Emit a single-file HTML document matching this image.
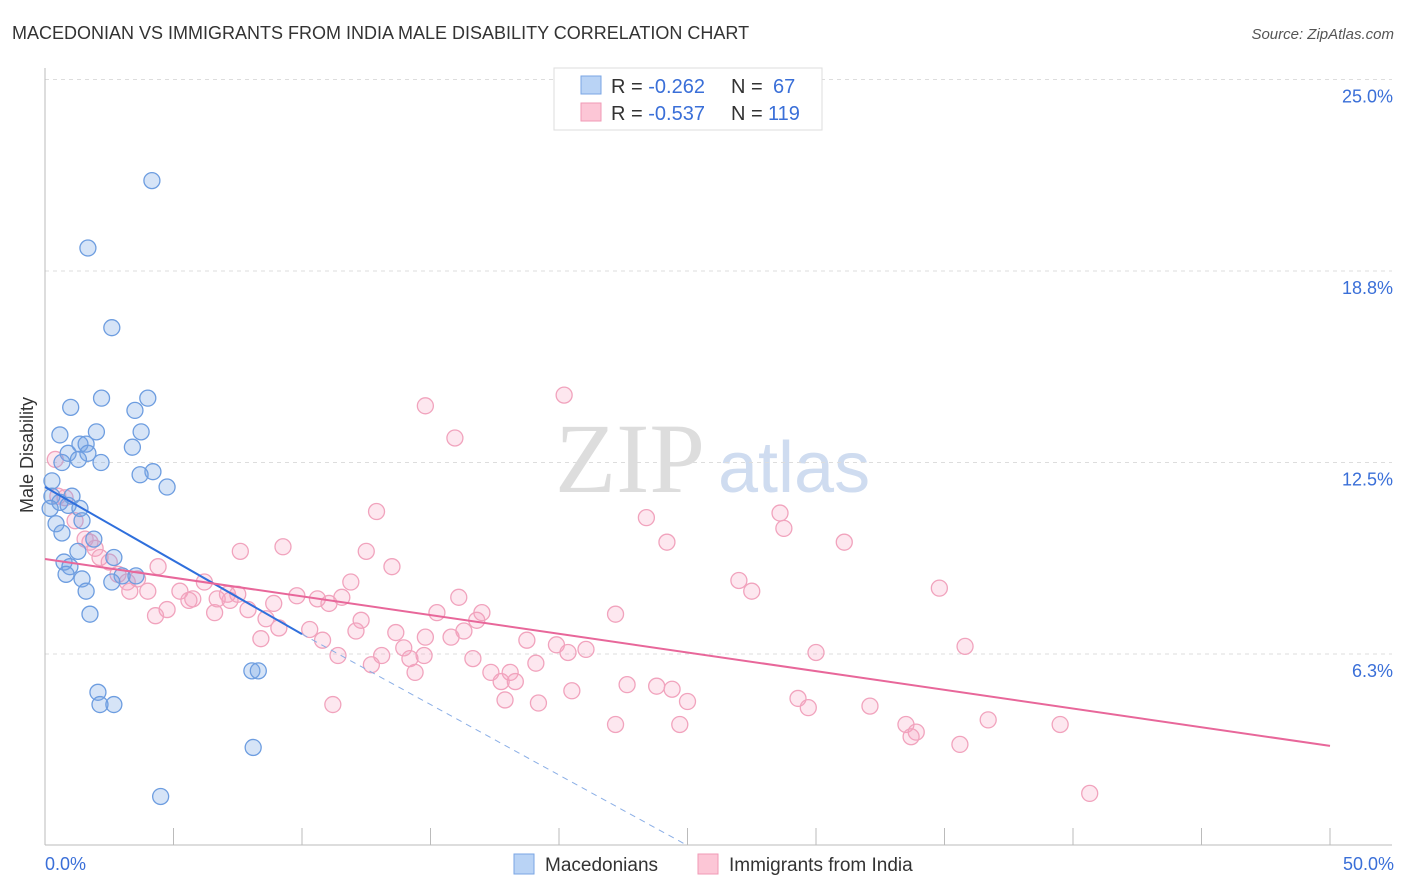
<!DOCTYPE html>
<html><head><meta charset="utf-8"><style>
body{margin:0;background:#fff;font-family:"Liberation Sans",sans-serif;}
#wrap{position:relative;width:1406px;height:892px;overflow:hidden;}
</style></head><body>
<div id="wrap">
<svg id="svg" width="1406" height="892" xmlns="http://www.w3.org/2000/svg">
<text x="12" y="39" font-size="18" fill="#333">MACEDONIAN VS IMMIGRANTS FROM INDIA MALE DISABILITY CORRELATION CHART</text>
<text x="1394" y="39" font-size="15" fill="#555" font-style="italic" text-anchor="end">Source: ZipAtlas.com</text>
<text x="33" y="455" font-size="18" fill="#333" text-anchor="middle" transform="rotate(-90 33 455)">Male Disability</text>
<text x="555" y="492" font-size="100" fill="#ddd" font-family="Liberation Serif,serif">ZIP</text>
<text x="718" y="492" font-size="72" fill="#cfdcf0">atlas</text>
<g id="grid"></g><g id="marks"></g>
<rect x="554" y="68" width="268" height="62" fill="#fff" stroke="#ddd"/>
<rect x="581" y="76" width="20" height="18" fill="#b9d3f5" stroke="#7aa6e4"/>
<rect x="581" y="103" width="20" height="18" fill="#fcc6d6" stroke="#f09ab6"/>
<text x="611" y="93" font-size="20" fill="#333">R = <tspan fill="#3a6fd8">-0.262</tspan><tspan x="731">N = </tspan><tspan fill="#3a6fd8" x="773">67</tspan></text>
<text x="611" y="120" font-size="20" fill="#333">R = <tspan fill="#3a6fd8">-0.537</tspan><tspan x="731">N = </tspan><tspan fill="#3a6fd8" x="768">119</tspan></text>
<rect x="514" y="854" width="20" height="20" fill="#b9d3f5" stroke="#7aa6e4"/>
<text x="545" y="871" font-size="19" fill="#333">Macedonians</text>
<rect x="698" y="854" width="20" height="20" fill="#fcc6d6" stroke="#f09ab6"/>
<text x="729" y="871" font-size="19" fill="#333">Immigrants from India</text>
<text x="45" y="870" font-size="18" fill="#3a6fd8">0.0%</text>
<text x="1394" y="870" font-size="18" fill="#3a6fd8" text-anchor="end">50.0%</text>
</svg></div>
<script>
const yTicks=[25,18.75,12.5,6.25];
const yTickLabels=["25.0%","18.8%","12.5%","6.3%"];
const xTicks=[0,5,10,15,20,25,30,35,40,45,50];
const macX=[4.16,1.67,2.6,2.2,4.0,1.0,3.5,2.0,3.74,0.58,1.36,1.6,3.4,0.9,1.67,1.3,0.66,2.18,4.2,3.7,4.75,0.27,0.27,1.05,0.58,0.2,0.9,1.36,1.44,0.43,0.66,1.9,1.28,2.68,0.74,0.97,0.82,1.44,3.0,3.54,2.6,1.6,1.75,8.05,8.3,2.06,2.14,2.68,8.1,4.5];
const macY=[21.7,19.5,16.9,14.6,14.6,14.3,14.2,13.5,13.5,13.4,13.1,13.1,13.0,12.8,12.8,12.6,12.5,12.5,12.2,12.1,11.7,11.9,11.4,11.4,11.2,11.0,11.1,11.0,10.6,10.5,10.2,10.0,9.6,9.4,9.25,9.1,8.85,8.7,8.8,8.8,8.6,8.3,7.55,5.7,5.7,5.0,4.6,4.6,3.2,1.6];
const indX=[20.2,14.8,15.95,12.9,23.4,28.6,28.75,24.2,31.1,7.6,9.26,12.5,13.5,4.4,11.9,27.0,27.5,34.8,6.2,5.25,7.1,9.8,10.6,11.55,16.1,8.9,11.05,15.25,17.0,16.8,22.2,7.9,6.6,4.75,4.3,12.3,8.6,9.1,10.3,12.1,13.65,16.3,14.8,15.8,18.75,8.4,10.8,13.96,19.9,20.35,21.05,11.4,13.1,14.75,14.2,16.65,19.1,12.7,30.0,35.8,17.35,18.1,14.4,17.75,18.3,22.65,23.8,24.4,20.5,17.9,19.2,25.0,29.3,29.7,32.1,11.2,22.2,24.7,33.5,36.7,39.5,33.9,33.7,35.6,40.65,0.78,1.17,1.56,1.95,2.14,2.5,2.84,3.2,3.6,4.0,3.3,1.75,0.4,0.5,5.75,5.6,7.2,7.5,6.7];
const indY=[14.7,14.35,13.3,10.9,10.7,10.85,10.35,9.9,9.9,9.6,9.75,9.6,9.1,9.1,8.6,8.65,8.3,8.4,8.6,8.3,8.2,8.15,8.05,8.1,8.1,7.9,7.9,7.6,7.6,7.35,7.55,7.7,7.6,7.7,7.5,7.35,7.4,7.1,7.05,7.0,6.95,7.0,6.8,6.8,6.7,6.75,6.7,6.45,6.55,6.3,6.4,6.2,6.2,6.2,6.1,6.1,5.95,5.9,6.3,6.5,5.65,5.65,5.65,5.35,5.35,5.25,5.2,5.1,5.05,4.75,4.65,4.7,4.8,4.5,4.55,4.6,3.95,3.95,3.95,4.1,3.95,3.7,3.55,3.3,1.7,11.35,10.6,10.0,9.7,9.4,9.25,8.85,8.6,8.7,8.3,8.3,9.9,12.6,11.4,8.05,8.0,8.0,8.2,8.05];
const macLine=[[0,11.7],[10,6.9]];
const macDash=[[10,6.9],[25,0]];
const indLine=[[0,9.35],[50,3.25]];
const X=v=>45+v*25.7, Y=v=>845.5-v*30.64;
const NS="http://www.w3.org/2000/svg";
const grid=document.getElementById('grid'), marks=document.getElementById('marks');
function mk(tag,attrs,parent){const e=document.createElementNS(NS,tag);for(const k in attrs)e.setAttribute(k,attrs[k]);parent.appendChild(e);return e;}
yTicks.forEach((t,i)=>{
 const l=mk('line',{x1:45,x2:1392,y1:Y(t),y2:Y(t),stroke:'#ddd','stroke-dasharray':'4 4'},grid);
 
 
 const tx=mk('text',{x:1393,y:Y(t)+23,'font-size':18,fill:'#3a6fd8','text-anchor':'end'},grid);
 tx.textContent=yTickLabels[i];
 
 
});
const ax=mk('line',{x1:45,x2:45,y1:68,y2:845,stroke:'#bbb'},grid);


const bx=mk('line',{x1:45,x2:1392,y1:845,y2:845,stroke:'#bbb'},grid);


xTicks.forEach(t=>{
 const l=mk('line',{x1:X(t),x2:X(t),y1:828,y2:845,stroke:'#bbb'},grid);
 
 
});
indX.forEach((x,i)=>{
 const c=mk('circle',{cx:X(x),cy:Y(indY[i]),r:8,fill:'rgba(246,160,190,0.25)',stroke:'#f1a3bd','stroke-width':1.3},marks);
 
 
});
macX.forEach((x,i)=>{
 const c=mk('circle',{cx:X(x),cy:Y(macY[i]),r:8,fill:'rgba(120,165,230,0.3)',stroke:'#6d9de0','stroke-width':1.3},marks);
 
 
});
const l1=mk('line',{x1:X(macLine[0][0]),y1:Y(macLine[0][1]),x2:X(macLine[1][0]),y2:Y(macLine[1][1]),stroke:'#2f6fdc','stroke-width':2},marks);


const l2=mk('line',{x1:X(macDash[0][0]),y1:Y(macDash[0][1]),x2:X(macDash[1][0]),y2:Y(macDash[1][1]),stroke:'#8aaee6','stroke-width':1,'stroke-dasharray':'6 5'},marks);


const l3=mk('line',{x1:X(indLine[0][0]),y1:Y(indLine[0][1]),x2:X(indLine[1][0]),y2:Y(indLine[1][1]),stroke:'#e8679a','stroke-width':2},marks);


</script>
</body></html>
